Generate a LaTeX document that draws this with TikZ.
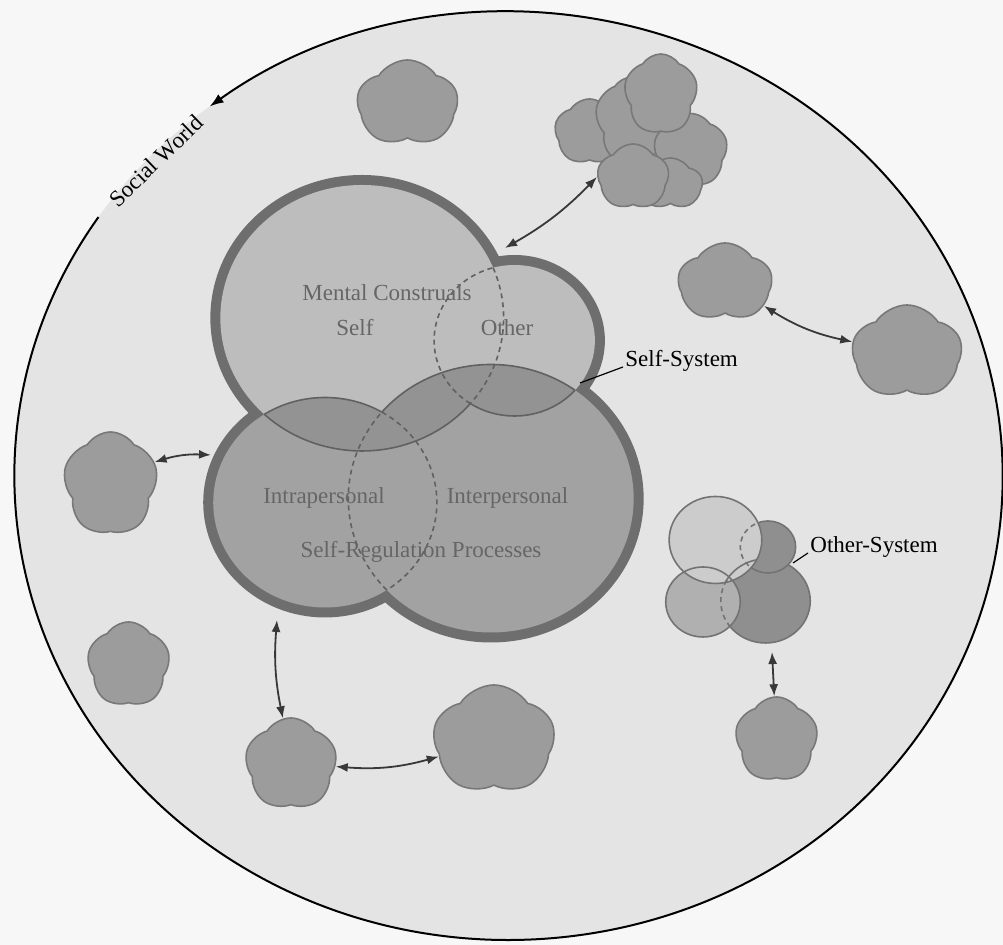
\documentclass[tikz,border=0pt]{standalone}
\usepackage{fontspec}
\setmainfont{Liberation Serif}
\usetikzlibrary{arrows.meta,shapes.symbols}

\definecolor{paper}{gray}{0.97}
\definecolor{worldfill}{gray}{0.895}
\definecolor{consfill}{gray}{0.74}
\definecolor{regfill}{gray}{0.635}
\definecolor{bothfill}{gray}{0.575}
\definecolor{rimgray}{gray}{0.43}
\definecolor{seamgray}{gray}{0.38}
\definecolor{inkgray}{gray}{0.40}
\definecolor{puffgray}{gray}{0.61}
\definecolor{puffline}{gray}{0.47}
\definecolor{arrowink}{gray}{0.22}
\definecolor{oslight}{gray}{0.80}
\definecolor{osmid}{gray}{0.69}
\definecolor{osdark}{gray}{0.56}
\definecolor{osline}{gray}{0.45}

\begin{document}
\begin{tikzpicture}[x=0.5325pt,y=-0.5pt,
  every node/.append style={font=\fontsize{11.5}{13}\selectfont},
  rim/.style={draw=rimgray,line width=10pt},
  seam/.style={draw=seamgray,line width=0.8pt},
  hidden/.style={seam,dash pattern=on 2.5pt off 2pt},
  inside/.style={text=inkgray,anchor=base,inner sep=0pt},
  puff/.style={cloud,cloud puffs=5,cloud puff arc=115,aspect=1,draw=puffline,fill=puffgray,line width=0.8pt,inner sep=0pt},
  osring/.style={draw=osline,line width=0.8pt},
  link/.style={<->,>={Latex[length=6pt,width=4.5pt]},draw=arrowink,line width=0.9pt},
  leader/.style={draw=black,line width=0.6pt}]
\useasboundingbox (0,0) rectangle (941.8,945);
\fill[paper] (0,0) rectangle (941.8,945);

%
% social world
%
\coordinate (world) at (477.5,476);
\fill[worldfill] (world) circle (464);
\draw[line width=1pt,-{Latex[length=7pt,width=5pt]}] ([shift={(213.92:464)}]world) arc[start angle=213.92,end angle=-127.22,radius=464];
\node[rotate=44,inner sep=0pt] (socialLabel) at (146.5,161) {Social World};

%
% other people
%
\node[puff,minimum width=50.5pt,minimum height=43.5pt,shape border rotate=12] (topPuff) at (382.6,103.5) {};
\node[puff,minimum width=47pt,minimum height=39.5pt,shape border rotate=40] (rightPuff) at (680.8,282.5) {};
\node[puff,minimum width=55pt,minimum height=47.5pt,shape border rotate=20] (farRightPuff) at (851.6,352.5) {};
\node[puff,minimum width=47.5pt,minimum height=51.5pt,shape border rotate=10] (leftPuff) at (103.8,483.5) {};
\node[puff,minimum width=41.5pt,minimum height=42.5pt,shape border rotate=30] (lowLeftPuff) at (120.7,664.5) {};
\node[puff,minimum width=46pt,minimum height=46pt,shape border rotate=15] (basePuff) at (273.2,764) {};
\node[puff,minimum width=61pt,minimum height=55pt,shape border rotate=25] (bottomPuff) at (463.8,740) {};
\node[puff,minimum width=41.5pt,minimum height=42.5pt,shape border rotate=5] (otherPuff) at (729.1,739.5) {};

% group of others
\node[puff,minimum width=35pt,minimum height=33pt] (grpA) at (553.5,132) {};
\node[puff,minimum width=37pt,minimum height=43pt,shape border rotate=20] (grpB) at (593.4,120) {};
\node[puff,minimum width=37pt,minimum height=37pt,shape border rotate=10] (grpD) at (648.5,150.5) {};
\node[puff,minimum width=32pt,minimum height=26pt] (grpF) at (629.5,184) {};
\node[puff,minimum width=36pt,minimum height=33pt,shape border rotate=30] (grpE) at (594.5,177) {};
\node[puff,minimum width=37pt,minimum height=40pt,shape border rotate=15] (grpC) at (620.5,94) {};

%
% self-system
%
\coordinate (self) at (339.9,318);
\coordinate (other) at (483.1,340.5);
\coordinate (intra) at (305.2,502.5);
\coordinate (inter) at (461.0,498.5);

\draw[rim] (self) circle (133) (other) circle (75.5) (intra) circle (105) (inter) circle (134);
\fill[regfill] (intra) circle (105) (inter) circle (134);
\fill[consfill] (self) circle (133) (other) circle (75.5);
\begin{scope}
\clip (intra) circle (105) (inter) circle (134);
\fill[bothfill] (self) circle (133) (other) circle (75.5);
\end{scope}

\foreach \ctr/\rad/\angA/\angB in {self/133/133.59/40.07,other/75.5/123.27/41.18,intra/105/-122.88/-59.44,inter/134/-139.84/-53.92}
  \draw[seam] ([shift={(\angA:\rad)}]\ctr) arc[start angle=\angA,end angle=\angB,radius=\rad];
\foreach \ctr/\rad/\angA/\angB in {self/133/-22.21/40.07,other/75.5/123.27/254.60,intra/105/-59.44/56.50,inter/134/136.91/220.16}
  \draw[hidden] ([shift={(\angA:\rad)}]\ctr) arc[start angle=\angA,end angle=\angB,radius=\rad];

\node[inside] (mentalLabel) at (363.4,301) {Mental Construals};
\node[inside] (selfLabel) at (333.3,336) {Self};
\node[inside] (otherLabel) at (476.1,336) {Other};
\node[inside] (intraLabel) at (304.2,504) {Intrapersonal};
\node[inside] (interLabel) at (476.5,504) {Interpersonal};
\node[inside] (regLabel) at (395.3,558) {Self-Regulation Processes};

\node[anchor=base west,inner sep=1pt] (ssLabel) at (585,367) {Self-System};
\coordinate (ssTick) at (544.6,383);
\draw[leader] (ssTick) -- (ssLabel.base west);

%
% other-system
%
\coordinate (osTL) at (671.8,540);
\coordinate (osTR) at (721.1,547);
\coordinate (osBL) at (660.1,602);
\coordinate (osBR) at (718.8,601);
\filldraw[osring,fill=osdark] (osBR) circle (42);
\filldraw[osring,fill=osdark] (osTR) circle (26);
\filldraw[osring,fill=osmid] (osBL) circle (35);
\filldraw[osring,fill=oslight] (osTL) circle (43.5);
\begin{scope}
\clip (osTL) circle (43.5);
\draw[osring] (osBL) circle (35) (osBR) circle (42);
\draw[osring,dash pattern=on 2.5pt off 2pt] (osTR) circle (26);
\end{scope}
\begin{scope}
\clip (osBL) circle (35);
\draw[osring,dash pattern=on 2.5pt off 2pt] (osBR) circle (42);
\end{scope}

\node[anchor=base west,inner sep=1pt] (osLabel) at (758.7,553) {Other-System};
\coordinate (osTick) at (744.6,563);
\draw[leader] (osTick) -- (osLabel.base west);

%
% exchanges
%
\coordinate (sysTop) at (474.2,248);
\coordinate (sysLeft) at (198.1,455);
\coordinate (sysBottom) at (260.1,620);
\coordinate (osBottom) at (724.9,652);

\draw[link] (sysTop) to[bend right=8] (grpE.west);
\draw[link] (rightPuff) to[bend right=10] (farRightPuff);
\draw[link] (leftPuff) to[bend left=10] (sysLeft);
\draw[link] (sysBottom) to[bend right=8] (basePuff.100);
\draw[link] (basePuff) to[bend right=10] (bottomPuff);
\draw[link] (osBottom) -- (otherPuff);

\end{tikzpicture}
\end{document}
